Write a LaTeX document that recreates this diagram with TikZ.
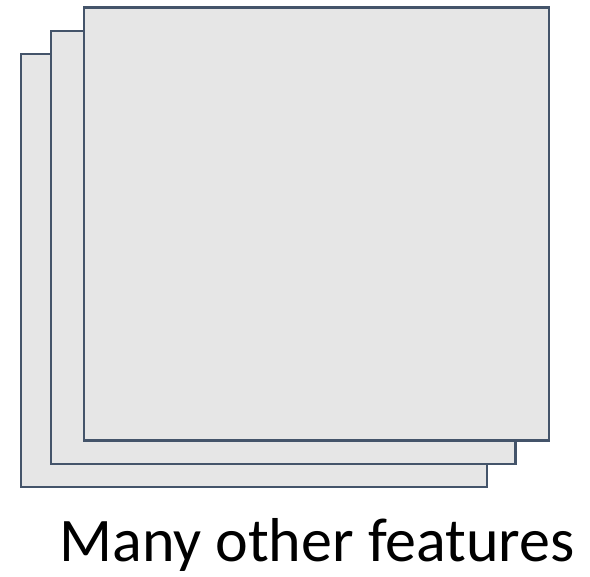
\documentclass[tikz,border=0pt]{standalone}
\usepackage{fontspec}
\setmainfont{Carlito}
\definecolor{edge}{HTML}{44546A}
\definecolor{sheet}{HTML}{E6E6E6}
\tikzset{sheetbox/.style={draw=edge, fill=sheet, line width=2.25pt}}
\begin{document}
\begin{tikzpicture}[x=1pt,y=-1pt]
\useasboundingbox (0,0) rectangle (590,577);
\path[sheetbox] (21,54) rectangle (487,487);
\path[sheetbox] (51,31) rectangle (515.5,464);
\path[sheetbox] (84,7.5) rectangle (549,440.5);
\node[anchor=base, inner sep=0pt, font=\fontsize{62}{70}\selectfont] (label) at (317,561.5) {Many other features};
\end{tikzpicture}
\end{document}
